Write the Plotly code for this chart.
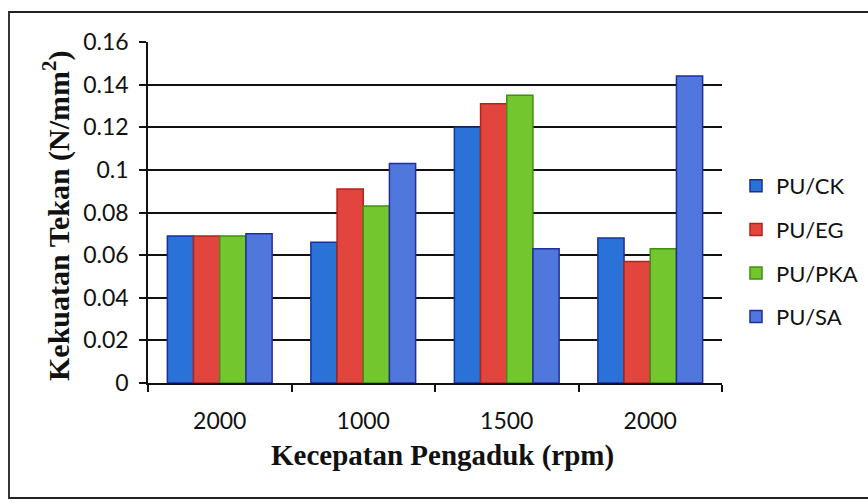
import plotly.graph_objects as go

# Stirring speeds (rpm) for each group of bars
categories = ["2000", "1000", "1500", "2000"]

# Compressive strength (N/mm^2) per polyurethane composite
pu_ck = [0.069, 0.066, 0.120, 0.068]
pu_eg = [0.069, 0.091, 0.131, 0.057]
pu_pka = [0.069, 0.083, 0.135, 0.063]
pu_sa = [0.070, 0.103, 0.063, 0.144]

series_names = ["PU/CK", "PU/EG", "PU/PKA", "PU/SA"]
series_values = [pu_ck, pu_eg, pu_pka, pu_sa]
fill_colors = ["#2a72d8", "#e2453d", "#74c62e", "#5077dc"]
edge_colors = ["#1b2f9c", "#b0241c", "#3f8f12", "#1f2f9e"]

W, H = 868, 504
ML, MR, MT, MB = 148, 146, 42, 121
PW, PH = W - ML - MR, H - MT - MB


def px_x(px):
    return (px - ML) / PW


def px_y(py):
    return (H - MB - py) / PH


x_pos = list(range(len(categories)))

fig = go.Figure()
for i, (name, vals) in enumerate(zip(series_names, series_values)):
    fig.add_trace(go.Bar(
        x=x_pos, y=vals, name=name, legendgroup=name,
        marker=dict(color=fill_colors[i], line=dict(color=edge_colors[i], width=1.5)),
    ))

sans = "Lato, 'Open Sans', sans-serif"
serif = "'Liberation Serif', 'Times New Roman', serif"
ink = "#111111"

fig.update_layout(
    width=W, height=H,
    margin=dict(l=ML, r=MR, t=MT, b=MB, autoexpand=False),
    paper_bgcolor="white", plot_bgcolor="white",
    barmode="group", bargap=0.27, bargroupgap=0.0,
    font=dict(family=sans, color=ink),
    legend=dict(
        x=px_x(736), y=px_y(165), xanchor="left", yanchor="top",
        font=dict(family=sans, size=22, color=ink),
        tracegroupgap=12, itemwidth=30, bgcolor="rgba(0,0,0,0)",
    ),
    xaxis=dict(
        range=[-0.5, 3.5],
        tickmode="array", tickvals=x_pos, ticktext=categories,
        ticks="", showgrid=False, zeroline=False,
        showline=True, linecolor=ink, linewidth=1.5,
        tickfont=dict(family=sans, size=23, color=ink),
        ticklabelstandoff=17,
        minor=dict(tickmode="array", tickvals=[-0.5, 0.5, 1.5, 2.5, 3.5],
                   ticks="outside", ticklen=7, tickcolor=ink, tickwidth=1.5,
                   showgrid=False),
    ),
    yaxis=dict(
        range=[0, 0.16], dtick=0.02, tick0=0,
        showgrid=True, gridcolor=ink, gridwidth=1.5,
        ticks="outside", ticklen=7, tickcolor=ink, tickwidth=1.5,
        zeroline=False, showline=True, linecolor=ink, linewidth=1.5,
        tickfont=dict(family=sans, size=23, color=ink),
        ticklabelstandoff=6,
    ),
    annotations=[
        dict(text="<b>Kekuatan Tekan (N/mm<sup>2</sup>)</b>", textangle=-90,
             xref="paper", yref="paper", x=px_x(56), y=px_y(216),
             xanchor="center", yanchor="middle", showarrow=False,
             font=dict(family=serif, size=30, color=ink)),
        dict(text="<b>Kecepatan Pengaduk (rpm)</b>",
             xref="paper", yref="paper", x=px_x(442), y=px_y(455),
             xanchor="center", yanchor="middle", showarrow=False,
             font=dict(family=serif, size=29, color=ink)),
    ],
    shapes=[dict(
        type="rect", xref="paper", yref="paper",
        x0=px_x(9), y0=px_y(498), x1=px_x(872), y1=px_y(12),
        line=dict(color="#222222", width=1.8), fillcolor="rgba(0,0,0,0)", layer="below",
    )],
)

fig.write_html("out.html")
